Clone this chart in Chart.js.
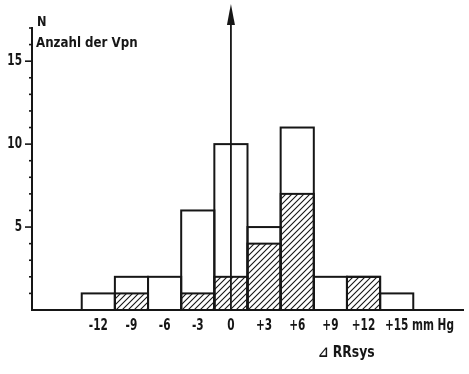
<!DOCTYPE html>
<html>
<head>
<meta charset="utf-8">
<script src="https://cdn.jsdelivr.net/npm/chart.js@4/dist/chart.umd.min.js"></script>
<style>
  html, body { margin: 0; padding: 0; background: #fff; }
  #wrap { width: 469px; height: 374px; }
</style>
</head>
<body>
<div id="wrap"><canvas id="c" width="469" height="374"></canvas></div>
<script>
// Change of systolic blood pressure (mm Hg), class centres
const binCenters = [-12, -9, -6, -3, 0, 3, 6, 9, 12, 15];
// Number of subjects per class (all)
const totalCounts = [1, 2, 2, 6, 10, 5, 11, 2, 2, 1];
// Subgroup shown hatched
const hatchedCounts = [0, 1, 0, 1, 2, 4, 7, 0, 2, 0];
// Axis labels
const xTickLabels = ['-12', '-9', '-6', '-3', '0', '+3', '+6', '+9', '+12', '+15'];
const yTickValues = [5, 10, 15];
const yTickLabels = ['5', '10', '15'];

const INK = '#161616';
const FONT = '"DejaVu Sans Condensed", "DejaVu Sans", sans-serif';

// Diagonal hatch pattern
function makeHatch() {
  const s = 6;
  const p = document.createElement('canvas');
  p.width = s; p.height = s;
  const g = p.getContext('2d');
  g.fillStyle = '#fff';
  g.fillRect(0, 0, s, s);
  g.strokeStyle = INK;
  g.lineWidth = 1.1;
  g.beginPath();
  g.moveTo(-1, s + 1); g.lineTo(s + 1, -1);
  g.moveTo(-1, 1); g.lineTo(1, -1);
  g.moveTo(s - 1, s + 1); g.lineTo(s + 1, s - 1);
  g.stroke();
  return document.getElementById('c').getContext('2d').createPattern(p, 'repeat');
}

// narrow lettering: condensed face squeezed horizontally
function narrowText(ctx, text, x, y, size, align, sx) {
  sx = sx || 0.78;
  ctx.save();
  ctx.font = 'bold ' + size + 'px ' + FONT;
  ctx.textBaseline = 'middle';
  ctx.textAlign = align;
  ctx.translate(x, y);
  ctx.scale(sx, 1);
  ctx.fillText(text, 0, 0);
  ctx.restore();
}

const totalData = binCenters.map((x, i) => ({ x, y: totalCounts[i] }));
const hatchedData = binCenters.map((x, i) => ({ x, y: hatchedCounts[i] > 0 ? hatchedCounts[i] : null }));

// Outlines, axis arrow, ticks and lettering
const decor = {
  id: 'decor',
  afterDatasetsDraw(chart) {
    const ctx = chart.ctx;
    const xs = chart.scales.x, ys = chart.scales.y;
    ctx.save();
    ctx.strokeStyle = INK;
    ctx.lineWidth = 2;
    ctx.lineJoin = 'miter';
    chart.data.datasets.forEach((ds, di) => {
      const meta = chart.getDatasetMeta(di);
      meta.data.forEach((el, i) => {
        if (ds.data[i].y == null) return;
        const p = el.getProps(['x', 'y', 'base', 'width'], true);
        const l = p.x - p.width / 2;
        ctx.strokeRect(l, p.y, p.width, p.base - p.y);
      });
    });

    // vertical arrow at zero change
    const x0 = xs.getPixelForValue(0);
    const yb = ys.getPixelForValue(0);
    ctx.lineWidth = 1.8;
    ctx.beginPath();
    ctx.moveTo(x0, yb);
    ctx.lineTo(x0, 20);
    ctx.stroke();
    ctx.fillStyle = INK;
    ctx.beginPath();
    ctx.moveTo(x0, 4);
    ctx.lineTo(x0 - 4, 25);
    ctx.lineTo(x0 + 4, 25);
    ctx.closePath();
    ctx.fill();

    // ticks on the y axis: every unit, longer at labelled values
    const ax = chart.chartArea.left;
    ctx.lineWidth = 1.6;
    for (let v = 1; v <= ys.max; v++) {
      const y = ys.getPixelForValue(v);
      const len = yTickValues.includes(v) ? 7 : 3;
      ctx.beginPath();
      ctx.moveTo(ax - len, y);
      ctx.lineTo(ax, y);
      ctx.stroke();
    }

    // tick labels
    ctx.fillStyle = INK;
    yTickValues.forEach((v, i) => {
      narrowText(ctx, yTickLabels[i], ax - 10, ys.getPixelForValue(v), 15, 'right');
    });
    binCenters.forEach((v, i) => {
      narrowText(ctx, xTickLabels[i], xs.getPixelForValue(v), yb + 16, 15, 'center');
    });

    // axis titles
    narrowText(ctx, 'N', ax + 5, 22, 14, 'left', 0.9);
    narrowText(ctx, 'Anzahl der Vpn', ax + 4, 43, 14, 'left', 0.94);
    narrowText(ctx, 'mm Hg', 412, yb + 16, 15, 'left');
    narrowText(ctx, '\u22BF RRsys', 318, 353, 15, 'left', 0.92);
    ctx.restore();
  }
};

new Chart(document.getElementById('c'), {
  type: 'bar',
  data: {
    datasets: [
      {
        label: 'Teilgruppe',
        data: hatchedData,
        backgroundColor: makeHatch(),
        borderWidth: 0,
        order: 0
      },
      {
        label: 'Alle',
        data: totalData,
        backgroundColor: '#ffffff',
        borderWidth: 0,
        order: 1
      }
    ]
  },
  options: {
    responsive: false,
    animation: false,
    devicePixelRatio: 1,
    grouped: false,
    barPercentage: 1,
    categoryPercentage: 1,
    layout: { padding: { top: 28, right: 6, left: 0, bottom: 0 } },
    plugins: { legend: { display: false }, tooltip: { enabled: false } },
    scales: {
      x: {
        type: 'linear',
        min: -18,
        max: 21,
        offset: false,
        grid: { display: false, drawTicks: false },
        border: { display: true, color: INK, width: 2 },
        afterBuildTicks(scale) {
          scale.ticks = binCenters.map(v => ({ value: v }));
        },
        afterFit(scale) { scale.height = 64; },
        ticks: { display: false }
      },
      y: {
        min: 0,
        max: 17,
        grid: { display: false, drawTicks: false },
        border: { display: true, color: INK, width: 2 },
        afterBuildTicks(scale) {
          scale.ticks = yTickValues.map(v => ({ value: v }));
        },
        afterFit(scale) { scale.width = 32; },
        ticks: { display: false }
      }
    }
  },
  plugins: [decor]
});
</script>
</body>
</html>
